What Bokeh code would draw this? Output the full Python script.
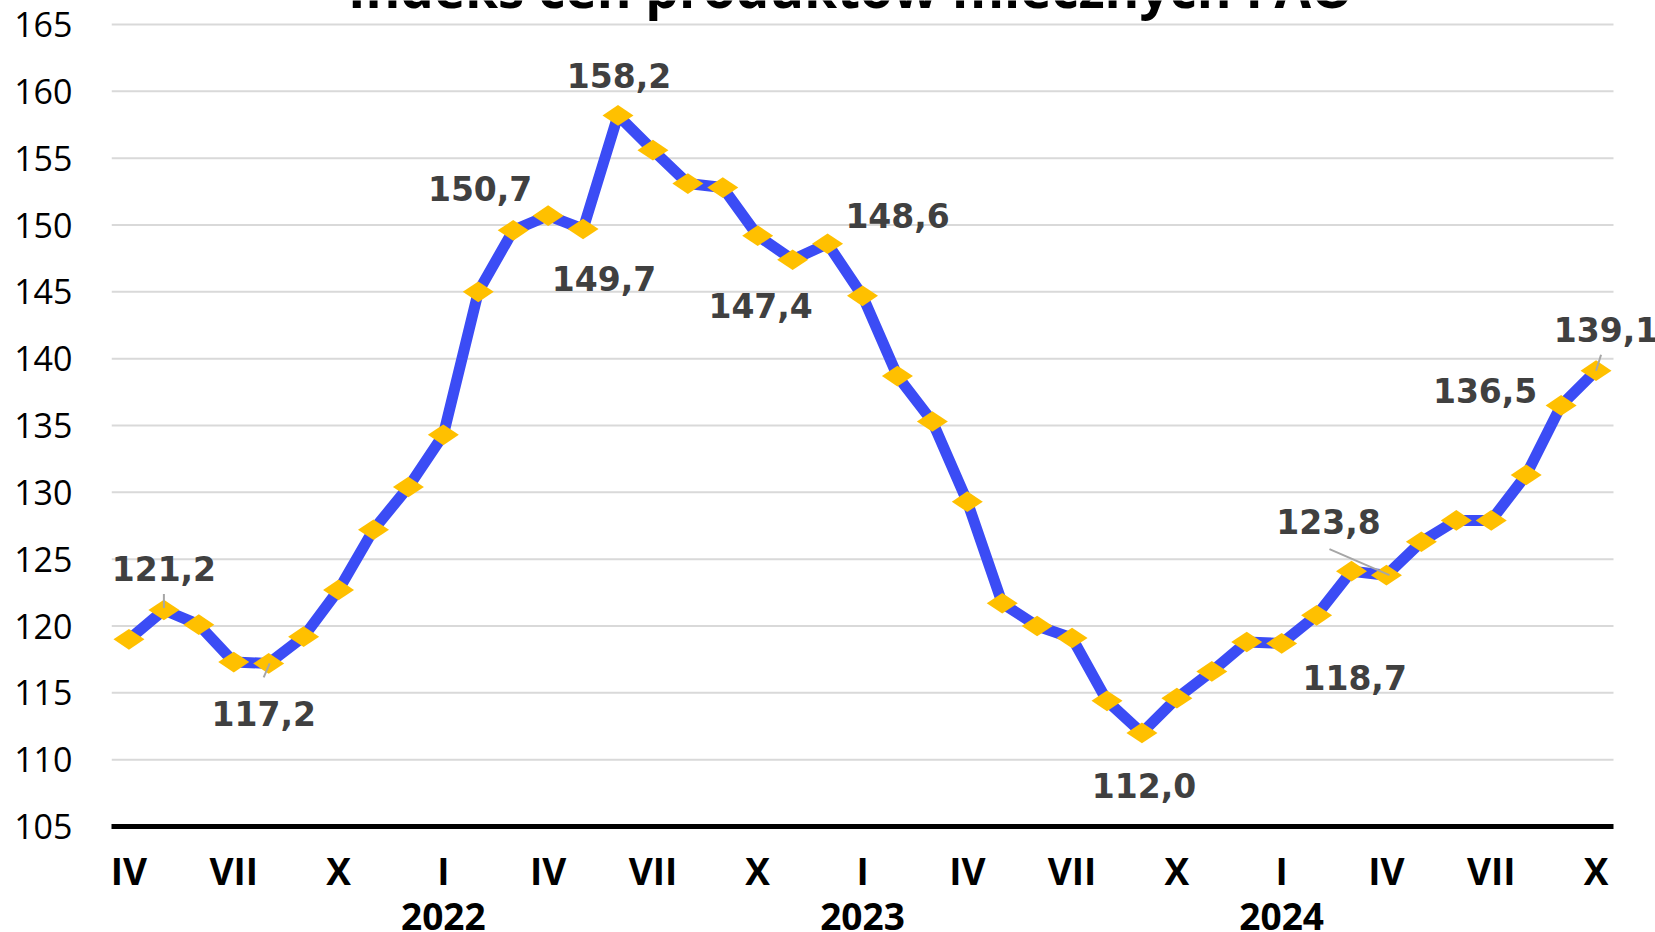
from bokeh.plotting import figure
from bokeh.models import ColumnDataSource, FixedTicker, Label, Range1d, LinearAxis
from bokeh.embed import file_html
from bokeh.resources import INLINE

# ---- data ----
month_labels = ["IV", "V", "VI", "VII", "VIII", "IX", "X", "XI", "XII",
                "I", "II", "III", "IV", "V", "VI", "VII", "VIII", "IX", "X", "XI", "XII",
                "I", "II", "III", "IV", "V", "VI", "VII", "VIII", "IX", "X", "XI", "XII",
                "I", "II", "III", "IV", "V", "VI", "VII", "VIII", "IX", "X"]
values = [119.0, 121.2, 120.1, 117.3, 117.2, 119.2, 122.7, 127.2, 130.4,
          134.3, 145.0, 149.6, 150.7, 149.7, 158.2, 155.6, 153.1, 152.8, 149.2, 147.4, 148.6,
          144.7, 138.7, 135.3, 129.3, 121.7, 120.0, 119.1, 114.4, 112.0, 114.6, 116.6, 118.8,
          118.7, 120.8, 124.1, 123.8, 126.3, 127.9, 127.9, 131.3, 136.5, 139.1]
year_labels = ["2022", "2023", "2024"]
year_start_idx = [9, 21, 33]
labeled_idx = [1, 4, 12, 13, 14, 19, 20, 29, 33, 36, 41, 42]
y_ticks = list(range(105, 166, 5))
title_text = "Indeks cen produktów mlecznych FAO"

# ---- style: label offsets in pixels (dx, dy downward) ----
label_offsets = {1: (0, -41), 4: (-5, 50), 12: (-68, -27), 13: (21, 49), 14: (1, -40),
                 19: (-32, 46), 20: (70, -28), 29: (2, 53), 33: (73, 34), 36: (-58, -54),
                 41: (-76, -15), 42: (10, -41)}
leader_offsets = {1: ((0, -2), (0, -16)), 4: ((1, 0), (-5, 14)),
                  36: ((3, 0), (-57, -26)), 42: ((0, 0), (5, -16))}

W, H = 1655, 932
BL, BR, BT, BB = 111, 0, 0, 106
n = len(values)
PLOT_W, PLOT_H = 1502, 802          # area covered by gridlines
px_x = PLOT_W / n
px_y = PLOT_H / (y_ticks[-1] - y_ticks[0])
FW, FH = W - BL - BR, H - BT - BB
x0 = -0.5
x_end = n - 0.5
x1 = x0 + FW / px_x
y0 = y_ticks[0]
y1 = y0 + FH / px_y
xs = list(range(n))

p = figure(width=W, height=H, min_border_left=BL, min_border_right=BR,
           min_border_top=BT, min_border_bottom=BB,
           x_range=Range1d(x0, x1), y_range=Range1d(y0, y1),
           output_backend="svg", toolbar_location=None)
p.outline_line_color = None
p.background_fill_color = "white"
p.border_fill_color = "white"
p.xgrid.grid_line_color = None
p.ygrid.grid_line_color = None

# horizontal gridlines (limited to the category area)
gy = y_ticks[1:]
p.segment(x0=[x0] * len(gy), y0=gy, x1=[x_end] * len(gy), y1=gy,
          line_color="#D9D9D9", line_width=2)

# y axis
p.yaxis.ticker = FixedTicker(ticks=y_ticks)
p.yaxis.axis_line_color = None
p.yaxis.major_tick_line_color = None
p.yaxis.minor_tick_line_color = None
p.yaxis.major_tick_out = 0
p.yaxis.major_label_standoff = 39
p.yaxis.major_label_text_font = "Open Sans"
p.yaxis.major_label_text_font_size = "34px"
p.yaxis.major_label_text_color = "#000000"

# x axis (months)
tick_idx = list(range(0, n, 3))
p.xaxis.ticker = FixedTicker(ticks=tick_idx)
p.xaxis.bounds = (x0, x_end)
p.xaxis.major_label_overrides = {i: month_labels[i] for i in tick_idx}
p.xaxis.axis_line_color = "#000000"
p.xaxis.axis_line_width = 5
p.xaxis.major_tick_line_color = None
p.xaxis.minor_tick_line_color = None
p.xaxis.major_tick_out = 0
p.xaxis.major_label_standoff = 18
p.xaxis.major_label_text_font = "Open Sans"
p.xaxis.major_label_text_font_style = "bold"
p.xaxis.major_label_text_font_size = "37px"
p.xaxis.major_label_text_color = "#000000"

# second axis (years)
year_axis = LinearAxis(ticker=FixedTicker(ticks=year_start_idx),
                       major_label_overrides={i: s for i, s in zip(year_start_idx, year_labels)},
                       axis_line_color=None, major_tick_line_color=None,
                       minor_tick_line_color=None, major_tick_out=0, minor_tick_out=0,
                       major_label_standoff=4, major_label_text_font="Open Sans",
                       major_label_text_font_style="bold", major_label_text_font_size="37px",
                       major_label_text_color="#000000")
p.add_layout(year_axis, "below")

# series
src = ColumnDataSource(dict(x=xs, y=values))
p.line("x", "y", source=src, line_color="#3B4CF5", line_width=11, line_join="round")
p.scatter("x", "y", source=src, marker="diamond", size=31, angle=1.5707963,
          fill_color="#FFC000", line_color=None)

# leader lines
sx0, sy0, sx1, sy1 = [], [], [], []
for i, ((ax, ay), (bx, by)) in leader_offsets.items():
    sx0.append(i + ax / px_x); sy0.append(values[i] - ay / px_y)
    sx1.append(i + bx / px_x); sy1.append(values[i] - by / px_y)
p.segment(sx0, sy0, sx1, sy1, line_color="#A6A6A6", line_width=2)

# data labels
for i in labeled_idx:
    dx, dy = label_offsets[i]
    p.add_layout(Label(x=i + dx / px_x, y=values[i] - dy / px_y,
                       text=f"{values[i]:.1f}".replace(".", ","),
                       text_align="center", text_baseline="middle",
                       text_font="DejaVu Sans", text_font_style="bold",
                       text_font_size="33px", text_color="#404040"))

# title (cut off at top as in reference)
p.add_layout(Label(x=20.66, y=y_ticks[-1] + 37 / px_y, text=title_text, text_align="center",
                   text_baseline="middle", text_font="Open Sans", text_font_style="bold",
                   text_font_size="53px", text_color="#000000"))

open("out.html", "w").write(file_html(p, INLINE))
